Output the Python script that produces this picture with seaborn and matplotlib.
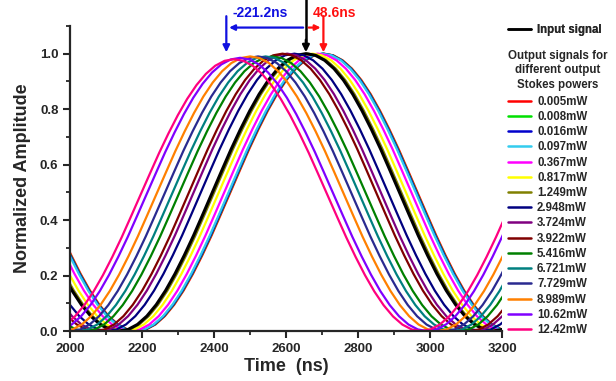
"""
Slow/fast light pulse delay vs output Stokes power
"""

import numpy as np
import pandas as pd
import matplotlib
matplotlib.use('Agg')
import matplotlib.pyplot as plt
from matplotlib.ticker import MultipleLocator
import seaborn as sns

# ----------------------------------------------------------------------------
# Data
# ----------------------------------------------------------------------------

# one period of the normalized pulse, sampled every STEP_NS around its peak
STEP_NS = 26
pulse_shape = [0.000, 0.006, 0.024, 0.054, 0.095, 0.146, 0.206, 0.273, 0.345, 0.422,
               0.500, 0.578, 0.655, 0.727, 0.794, 0.854, 0.905, 0.946, 0.976, 0.994,
               1.000,
               0.994, 0.976, 0.946, 0.905, 0.854, 0.794, 0.727, 0.655, 0.578, 0.500,
               0.422, 0.345, 0.273, 0.206, 0.146, 0.095, 0.054, 0.024, 0.006, 0.000]
PERIOD_NS = STEP_NS * (len(pulse_shape) - 1)

input_label = 'Input signal'
input_peak = 2655

power_labels = ['0.005mW', '0.008mW', '0.016mW', '0.097mW', '0.367mW', '0.817mW',
                '1.249mW', '2.948mW', '3.724mW', '3.922mW', '5.416mW', '6.721mW',
                '7.729mW', '8.989mW', '10.62mW', '12.42mW']
power_peaks = [2705, 2703, 2702, 2700, 2688, 2673, 2660, 2623, 2603, 2590,
               2562, 2543, 2522, 2500, 2472, 2455]
power_colors = ['#FF0000', '#00E000', '#0000CC', '#33CCEE', '#FF00FF', '#FFFF00',
                '#808000', '#000080', '#800080', '#800000', '#008000', '#008080',
                '#2A2A90', '#FF8000', '#8000FF', '#FF0080']
peak_amplitudes = [1.0, 1.0, 1.0, 1.0, 1.0, 1.0, 1.0, 1.0, 1.0, 1.0,
                   0.99, 0.99, 0.99, 0.99, 0.985, 0.98]

delay_values = [-221.2, 48.6]   # ns, relative to the input peak
delay_colors = ['#1010E0', '#FF1010']

legend_header = 'Output signals for\ndifferent output\nStokes powers'

# ----------------------------------------------------------------------------
# Build long-form table
# ----------------------------------------------------------------------------

rows = []
def add_series(name, peak, amp):
    for k in (-1, 0, 1):
        for i, v in enumerate(pulse_shape):
            t = peak + k * PERIOD_NS + (i - 20) * STEP_NS
            if 1970 <= t <= 3230:
                rows.append((name, t, v * amp))

add_series(input_label, input_peak, 1.0)
for lab, pk, a in zip(power_labels, power_peaks, peak_amplitudes):
    add_series(lab, pk, a)

df = pd.DataFrame(rows, columns=['series', 'time', 'amp'])
df = df.drop_duplicates(['series', 'time']).sort_values(['series', 'time'])

# ----------------------------------------------------------------------------
# Plot
# ----------------------------------------------------------------------------

sns.set_style('ticks')
plt.rcParams['font.family'] = ['Liberation Sans', 'DejaVu Sans']
plt.rcParams['font.weight'] = 'bold'

fig = plt.figure(figsize=(6.16, 3.81), dpi=100)
ax = fig.add_axes([0.114, 0.131, 0.701, 0.801])

# outputs first, input drawn in the middle of the stack like the original
order = power_labels[:7] + [input_label] + power_labels[7:]
palette = dict(zip(power_labels, power_colors))
palette[input_label] = '#000000'

sns.lineplot(data=df, x='time', y='amp', hue='series', hue_order=order,
             palette=palette, estimator=None, sort=True, linewidth=1.6, ax=ax)

for line in ax.get_lines():
    if matplotlib.colors.to_hex(line.get_color()) == '#000000':
        line.set_linewidth(2.2)

ax.set_xlim(2000, 3200)
ax.set_ylim(0, 1.1)
ax.xaxis.set_major_locator(MultipleLocator(200))
ax.xaxis.set_minor_locator(MultipleLocator(100))
ax.yaxis.set_minor_locator(MultipleLocator(0.1))
ax.set_yticks([0, 0.2, 0.4, 0.6, 0.8, 1.0])
ax.set_yticklabels(['0.0', '0.2', '0.4', '0.6', '0.8', '1.0'])
ax.tick_params(which='major', direction='out', length=5, width=1.5, labelsize=9.5)
ax.tick_params(which='minor', direction='out', length=3, width=1.3)
for lbl in ax.get_xticklabels() + ax.get_yticklabels():
    lbl.set_fontweight('bold')
sns.despine(ax=ax)
for s in ('left', 'bottom'):
    ax.spines[s].set_linewidth(1.6)

ax.set_xlabel('Time  (ns)', fontsize=13, fontweight='bold', labelpad=2)
ax.set_ylabel('Normalized Amplitude', fontsize=13, fontweight='bold', labelpad=6)

# delay annotations on top
top_y, bar_y, tip_y = 1.2, 1.094, 1.0
ax.plot([input_peak, input_peak], [top_y, tip_y + 0.04], color='black', lw=1.8, clip_on=False)
ax.annotate('', xy=(input_peak, tip_y - 0.005), xytext=(input_peak, tip_y + 0.06),
            arrowprops=dict(arrowstyle='-|>', color='black', lw=1.8, mutation_scale=10),
            annotation_clip=False)
for d, c in zip(delay_values, delay_colors):
    xd = input_peak + d
    ax.annotate('', xy=(xd, bar_y), xytext=(input_peak, bar_y),
                arrowprops=dict(arrowstyle='-|>', color=c, lw=1.6, mutation_scale=8),
                annotation_clip=False)
    ax.annotate('', xy=(xd, tip_y - 0.005), xytext=(xd, 1.145),
                arrowprops=dict(arrowstyle='-|>', color=c, lw=1.6, mutation_scale=10),
                annotation_clip=False)
    txt = f'{d:.1f}ns'
    if d < 0:
        ax.text(xd + 18, 1.145, txt, color=c, fontsize=10, fontweight='bold',
                ha='left', va='center', clip_on=False)
    else:
        ax.text(input_peak + 20, 1.145, txt, color=c, fontsize=10, fontweight='bold',
                ha='left', va='center', clip_on=False)

# legends
handles, labels = ax.get_legend_handles_labels()
hmap = dict(zip(labels, handles))
ax.get_legend().remove()

leg1 = fig.legend([hmap[input_label]], [input_label], loc='upper left',
                  bbox_to_anchor=(0.825, 0.938), frameon=False, fontsize=8.3,
                  handlelength=2.0, handletextpad=0.5, borderpad=0, borderaxespad=0)
fig.text(0.906, 0.815, legend_header, ha='center', va='center', fontsize=8.3,
         fontweight='bold', multialignment='center', linespacing=1.3)
leg2 = fig.legend([hmap[l] for l in power_labels], power_labels, loc='upper left',
                  bbox_to_anchor=(0.825, 0.749), frameon=False, fontsize=8.3,
                  handlelength=2.0, handletextpad=0.5,
                  labelspacing=0.28, borderpad=0, borderaxespad=0)
fig.add_artist(leg1)
for leg in (leg1, leg2):
    for t in leg.get_texts():
        t.set_fontweight('bold')
    for h in leg.legend_handles:
        h.set_linewidth(1.8)

plt.savefig('out.png', dpi=100)
plt.close()
